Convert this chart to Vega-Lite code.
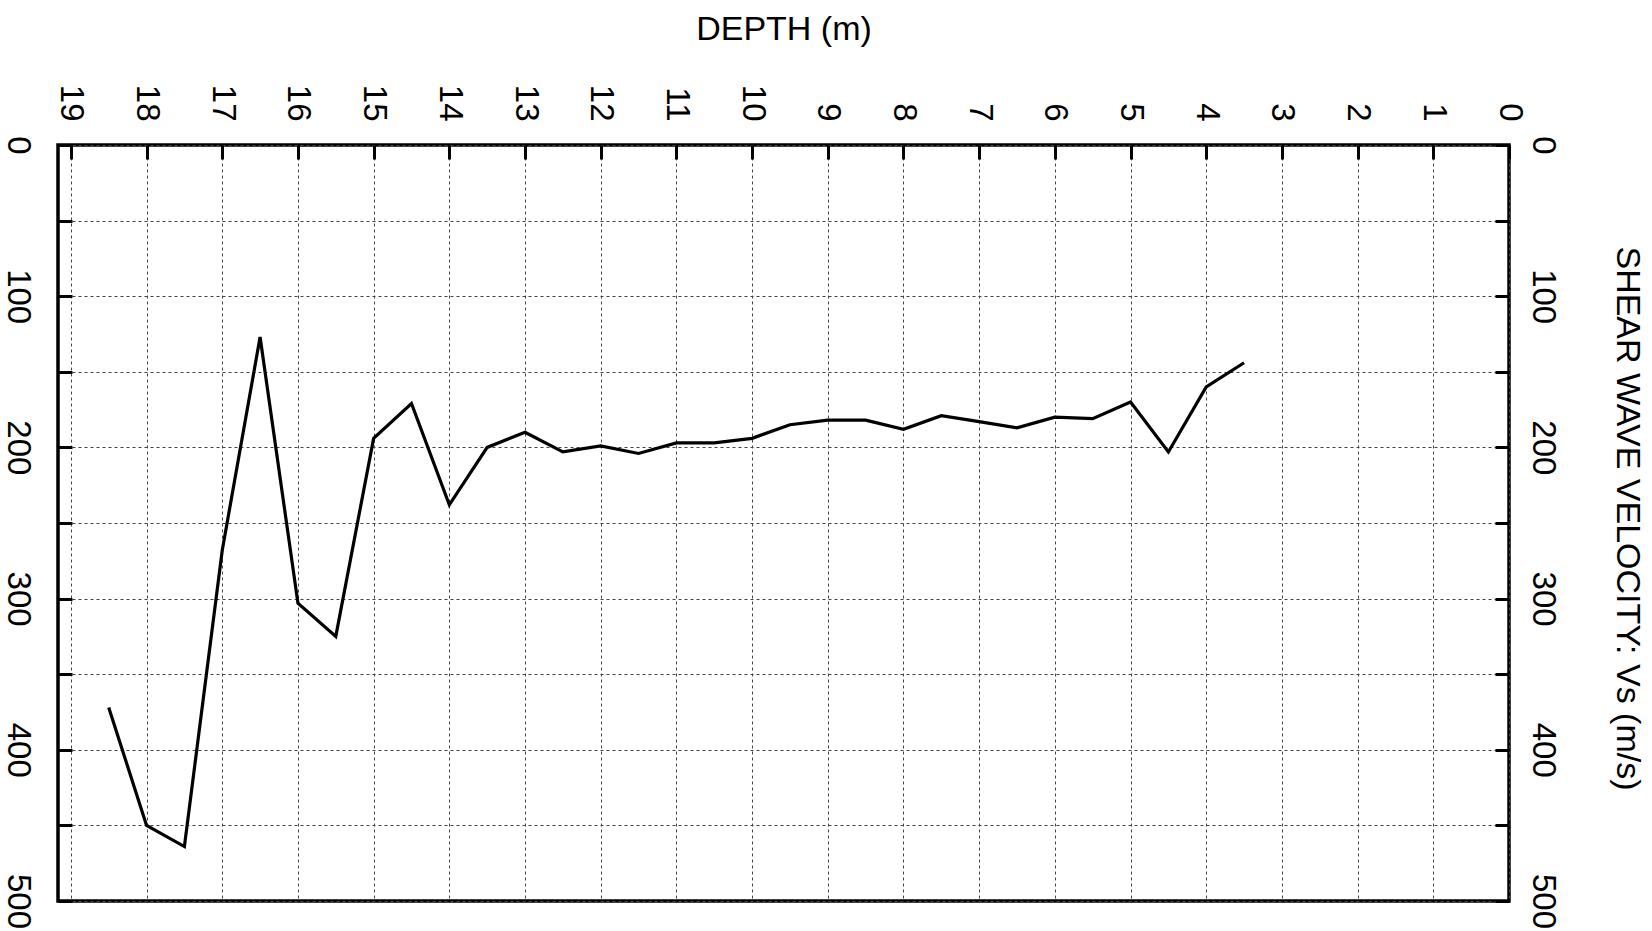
{
  "$schema": "https://vega.github.io/schema/vega-lite/v6.json",
  "width": 1451,
  "height": 756,
  "autosize": {"type": "none"},
  "padding": {"left": 58, "top": 145, "right": 143, "bottom": 30},
  "background": "white",
  "config": {
    "view": {"stroke": "black", "strokeWidth": 3.5},
    "font": "Liberation Sans",
    "axis": {
      "domain": false,
      "grid": true,
      "gridDash": [3, 3],
      "gridColor": "#444444",
      "gridWidth": 1,
      "gridOpacity": 1,
      "tickSize": -14,
      "tickWidth": 3,
      "tickColor": "black",
      "labelFont": "Liberation Sans",
      "labelFontSize": 33,
      "labelColor": "black",
      "labelFlush": false,
      "labelOverlap": false,
      "labelBound": false,
      "titleFont": "Liberation Sans",
      "titleFontSize": 34,
      "titleFontWeight": "normal",
      "titleColor": "black"
    }
  },
  "data": {
    "values": [
      {"depth": 3.5, "vs": 144},
      {"depth": 4.0, "vs": 160},
      {"depth": 4.5, "vs": 203},
      {"depth": 5.0, "vs": 170},
      {"depth": 5.5, "vs": 181},
      {"depth": 6.0, "vs": 180},
      {"depth": 6.5, "vs": 187},
      {"depth": 7.0, "vs": 183},
      {"depth": 7.5, "vs": 179},
      {"depth": 8.0, "vs": 188},
      {"depth": 8.5, "vs": 182},
      {"depth": 9.0, "vs": 182},
      {"depth": 9.5, "vs": 185},
      {"depth": 10.0, "vs": 194},
      {"depth": 10.5, "vs": 197},
      {"depth": 11.0, "vs": 197},
      {"depth": 11.5, "vs": 204},
      {"depth": 12.0, "vs": 199},
      {"depth": 12.5, "vs": 203},
      {"depth": 13.0, "vs": 190},
      {"depth": 13.5, "vs": 200},
      {"depth": 14.0, "vs": 238},
      {"depth": 14.5, "vs": 171},
      {"depth": 15.0, "vs": 194},
      {"depth": 15.5, "vs": 325},
      {"depth": 16.0, "vs": 303},
      {"depth": 16.5, "vs": 127},
      {"depth": 17.0, "vs": 268},
      {"depth": 17.5, "vs": 464},
      {"depth": 18.0, "vs": 450},
      {"depth": 18.5, "vs": 372}
    ]
  },
  "encoding": {
    "x": {
      "field": "depth",
      "type": "quantitative",
      "scale": {"domain": [0, 19.17], "reverse": true, "nice": false, "zero": false},
      "axis": {
        "orient": "top",
        "values": [0, 1, 2, 3, 4, 5, 6, 7, 8, 9, 10, 11, 12, 13, 14, 15, 16, 17, 18, 19],
        "title": "DEPTH (m)",
        "labelAngle": 90,
        "labelAlign": "right",
        "labelBaseline": "middle",
        "labelPadding": 38,
        "titleX": 725.5,
        "titleY": -116,
        "titleAlign": "center",
        "titleBaseline": "middle",
        "titleAngle": 0
      }
    }
  },
  "layer": [
    {
      "mark": {"type": "line", "color": "black", "strokeWidth": 3.2, "strokeJoin": "miter", "clip": true},
      "encoding": {
        "y": {
          "field": "vs",
          "type": "quantitative",
          "scale": {"domain": [0, 500], "reverse": true, "nice": false},
          "axis": {
            "orient": "left",
            "values": [0, 50, 100, 150, 200, 250, 300, 350, 400, 450, 500],
            "labelExpr": "datum.value % 100 == 0 ? datum.label : ''",
            "title": null,
            "labelAngle": 90,
            "labelAlign": "center",
            "labelBaseline": "middle",
            "labelPadding": 55
          }
        }
      }
    },
    {
      "mark": {"type": "point", "opacity": 0},
      "encoding": {
        "y": {
          "field": "vs",
          "type": "quantitative",
          "scale": {"domain": [0, 500], "reverse": true, "nice": false},
          "axis": {
            "orient": "right",
            "values": [0, 50, 100, 150, 200, 250, 300, 350, 400, 450, 500],
            "labelExpr": "datum.value % 100 == 0 ? datum.label : ''",
            "grid": false,
            "title": "SHEAR WAVE VELOCITY: Vs (m/s)",
            "labelAngle": 90,
            "labelAlign": "center",
            "labelBaseline": "middle",
            "labelPadding": 47,
            "titleAngle": 90,
            "titleX": 117,
            "titleY": 373,
            "titleAlign": "center",
            "titleBaseline": "middle"
          }
        }
      }
    }
  ],
  "resolve": {"axis": {"y": "independent"}}
}
